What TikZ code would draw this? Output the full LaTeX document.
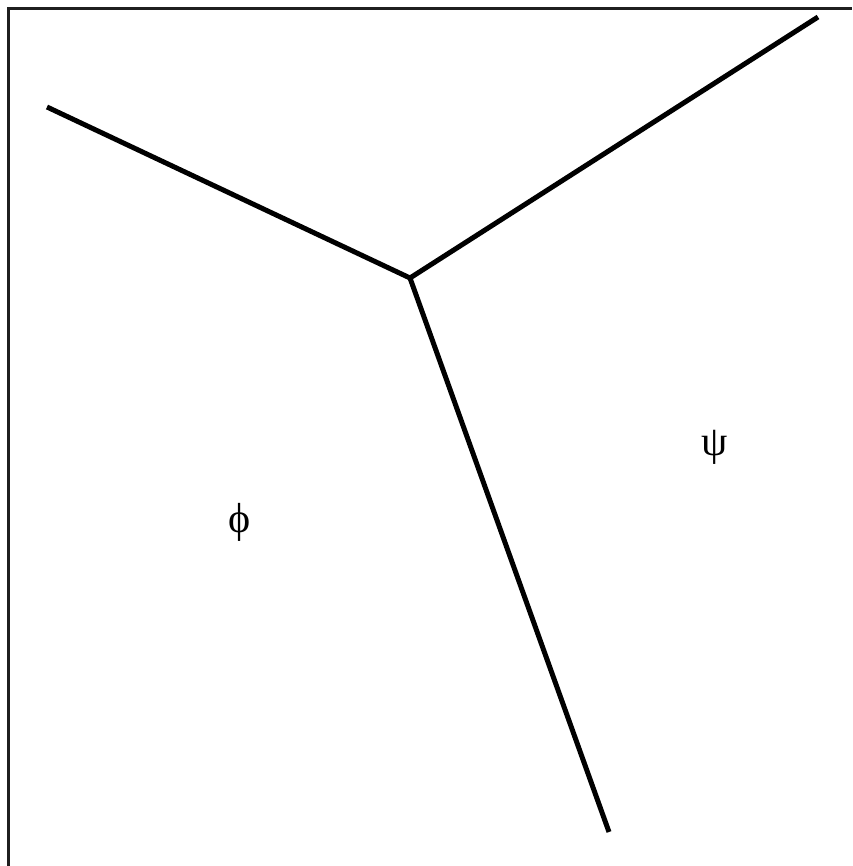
\documentclass[tikz,border=0pt]{standalone}
\usepackage{fontspec}
\setmainfont{Liberation Serif}
\begin{document}
\begin{tikzpicture}[x=1pt,y=-1pt]
        \useasboundingbox (0,0) rectangle (852,866);
        \draw [line width=3.5pt,black!88] (8.5,866) -- (8.5,8.5) -- (852,8.5);
        \coordinate (junction) at (410,278);
        \draw [line width=5pt] (47,107) -- (junction) -- (818,17);
        \draw [line width=5pt] (junction) -- (609,832);
        \path (240,522) node (phi) {\fontsize{42}{42}\selectfont ϕ};
        \path (715,447) node (psi) {\fontsize{42}{42}\selectfont ψ};
    \end{tikzpicture}
\end{document}
